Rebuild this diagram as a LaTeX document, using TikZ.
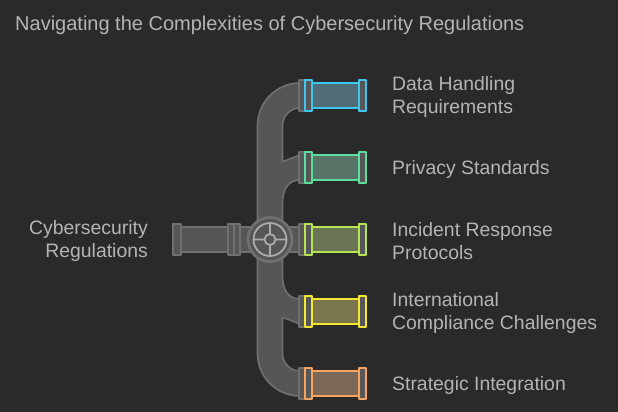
\documentclass[tikz,border=0pt]{standalone}
\usepackage{fontspec}
\setmainfont{Liberation Sans}
\definecolor{bg}{HTML}{2A2A2A}
\definecolor{pipefill}{HTML}{565656}
\definecolor{pipeline}{HTML}{707070}
\definecolor{hubring}{HTML}{ABABAB}
\definecolor{txtgray}{HTML}{B4B4B4}
\definecolor{blu}{HTML}{3FC5F0}
\definecolor{grn}{HTML}{5BDFA0}
\definecolor{lim}{HTML}{B5E352}
\definecolor{yel}{HTML}{F7E62F}
\definecolor{org}{HTML}{F9A35E}
\begin{document}
\begin{tikzpicture}[x=1pt,y=-1pt,line join=round,
  pipe/.style={fill=pipefill,draw=pipeline,line width=1.6pt},
  txt/.style={text=txtgray,font=\fontsize{19.4}{23.3}\selectfont,inner sep=0pt}]
\fill[bg] (0,0) rectangle (618,412);
\useasboundingbox (0,0) rectangle (618,412);
\node[txt,font=\fontsize{20}{24}\selectfont,anchor=base west] (title) at (15,31) {Navigating the Complexities of Cybersecurity Regulations};
\draw[pipe] (300,83) arc[start angle=270,end angle=180,radius=42.5] -- (257.5,353.5)
  arc[start angle=180,end angle=90,radius=42.5] -- (300,371)
  arc[start angle=90,end angle=180,radius=17.5] -- (282.5,317.3) -- (300,324) -- (300,299)
  .. controls (288,299) and (282.5,289) .. (282.5,276) -- (282.5,252) -- (300,252) -- (300,227)
  -- (282.5,227) -- (282.5,203) .. controls (282.5,190) and (288,180) .. (300,180) -- (300,155)
  -- (282.5,161.7) -- (282.5,125.5) arc[start angle=180,end angle=270,radius=17.5] -- cycle;
\draw[pipe] (181,227) rectangle (262,252);
\draw[pipe] (173,224) rectangle (181,255);
\draw[pipe] (228,224) rectangle (240,255) (234,224) -- (234,255);
\draw[pipe,line width=2.8pt] (270,239.5) circle (22);
\draw[hubring,line width=1.8pt] (270,239.5) circle (16.5) circle (5.5)
  (270,223) -- (270,234) (270,245) -- (270,256) (253.5,239.5) -- (264.5,239.5) (275.5,239.5) -- (286.5,239.5);
\foreach \y/\c/\l [count=\i] in {95.5/blu/{Data Handling\\Requirements},167.5/grn/{Privacy Standards},
  239.5/lim/{Incident Response\\Protocols},311.5/yel/{International\\Compliance Challenges},383.5/org/{Strategic Integration}}{
  \draw[pipe] (299,\y-15.5) rectangle (307,\y+15.5);
  \draw[line width=2pt,draw=\c,fill=\c!22!pipefill] (312,\y-12.5) rectangle (359,\y+12.5);
  \draw[line width=2pt,draw=\c,fill=pipefill] (305,\y-15.5) rectangle (312,\y+15.5) (359,\y-15.5) rectangle (366,\y+15.5);
  \node[txt,anchor=west,align=left,yshift=-1.5pt] (lab\i) at (392,\y) {\l};
}
\node[txt,anchor=east,align=right,yshift=-1.5pt] (src) at (148,239.5) {Cybersecurity\\Regulations};
\end{tikzpicture}
\end{document}
